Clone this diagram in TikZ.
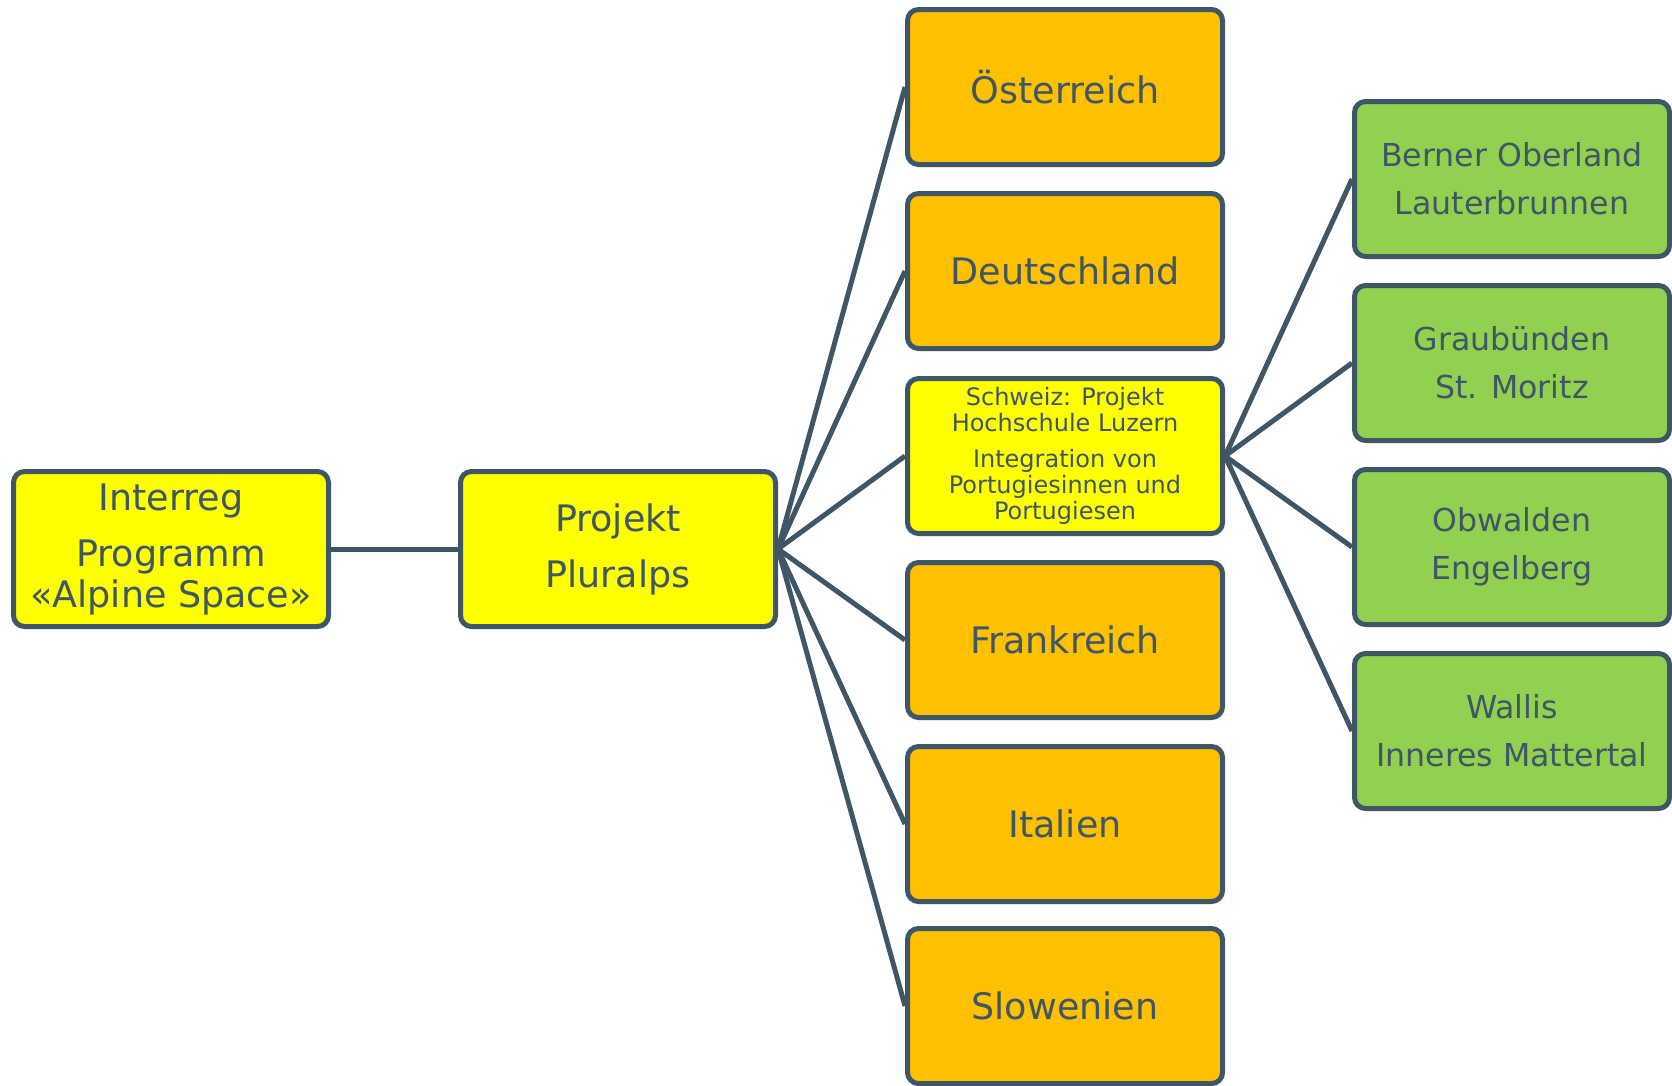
\documentclass[tikz,border=0pt]{standalone}
\usepackage{fontspec}
\setmainfont{DejaVu Sans}
\usepackage{xcolor}
\usepackage{tikz}
\definecolor{slate}{RGB}{62,86,102}
\definecolor{lemon}{RGB}{255,255,0}
\definecolor{gold}{RGB}{255,192,0}
\definecolor{grass}{RGB}{146,208,80}

\begin{document}
\begin{tikzpicture}[x=1pt,y=-1pt,
  box/.style={draw=slate,line width=5pt,rounded corners=11pt,minimum width=315pt,
    minimum height=155pt,inner sep=0pt,align=center,text=slate},
  big/.style={font=\fontsize{36.5}{41}\selectfont},
  link/.style={slate,line width=5pt}]
\useasboundingbox (0,0) rectangle (1672,1085);
\node[box,big,fill=lemon] (interreg) at (171,549) {Interreg\\[15pt]Programm\\«Alpine Space»};
\node[box,big,fill=lemon] (pluralps) at (618,549) {Projekt\\[15pt]Pluralps};
\foreach \i/\y/\lab in {aut/87/Österreich, de/271/Deutschland, fr/640/Frankreich, it/824/Italien, si/1006/Slowenien} {
  \node[box,big,fill=gold] (\i) at (1065,\y) {\lab};
}
\node[box,fill=lemon,font=\fontsize{24}{26}\selectfont] (ch) at (1065,456)
  {Schweiz: Projekt\\Hochschule Luzern\\[10pt]Integration von\\Portugiesinnen und\\Portugiesen};
\foreach \i/\y/\top/\bot in {be/179/Berner Oberland/Lauterbrunnen, gr/363/Graubünden/St. Moritz,
    ow/547/Obwalden/Engelberg, vs/731/Wallis/Inneres Mattertal} {
  \node[box,fill=grass,font=\fontsize{31.6}{38}\selectfont] (\i) at (1512,\y) {\top\\[10pt]\bot};
}
\draw[link] (interreg) -- (pluralps);
\foreach \i in {aut,de,ch,fr,it,si}
  \draw[link] (pluralps.east) -- (\i.west);
\foreach \i in {be,gr,ow,vs}
  \draw[link] (ch.east) -- (\i.west);
\end{tikzpicture}
\end{document}
